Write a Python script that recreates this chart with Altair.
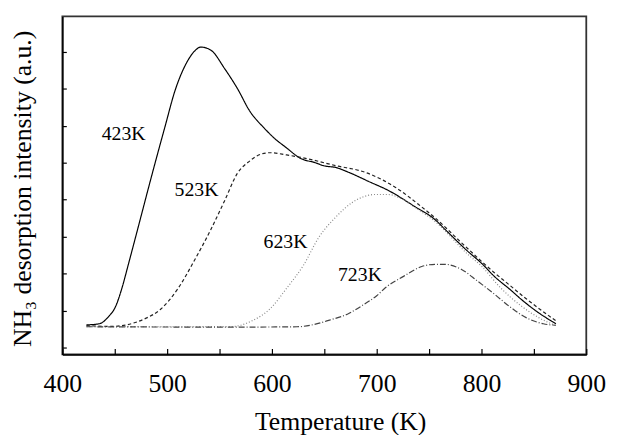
import altair as alt
import pandas as pd

series = ["423K", "523K", "623K", "723K"]

T_423 = [423, 435, 444, 451, 457, 463, 470, 476, 482, 490, 498, 507.5, 517, 526.5, 532,
         541.5, 555, 567, 579, 592.5, 602, 614, 626.5, 642.5, 649, 661, 674, 692.5, 711,
         737, 756, 765, 787, 800, 812, 828, 838, 850, 871]
V_423 = [0.61, 0.64, 0.83, 1.12, 1.62, 2.25, 3.00, 3.65, 4.30, 5.15, 5.98, 6.95, 7.62, 8.03, 8.13,
         8.05, 7.54, 7.01, 6.39, 5.94, 5.67, 5.40, 5.13, 4.99, 4.92, 4.87, 4.73, 4.49, 4.25,
         3.80, 3.45, 3.20, 2.60, 2.28, 1.93, 1.55, 1.30, 1.03, 0.64]

T_523 = [423, 447, 479, 494, 510, 526.5, 541.5, 555, 567, 579, 586, 598, 614, 630, 661, 690,
         718, 743, 756, 781, 812, 824.5, 843, 871]
V_523 = [0.59, 0.57, 0.78, 1.04, 1.58, 2.38, 3.18, 3.98, 4.71, 5.05, 5.19, 5.27, 5.21, 5.13,
         4.92, 4.73, 4.33, 3.80, 3.50, 2.83, 2.03, 1.74, 1.31, 0.72]

T_623 = [423, 560, 581, 598, 614, 630, 645, 661, 677, 699, 711, 721, 737, 756, 787, 800, 818,
         838, 855, 871]
V_623 = [0.56, 0.56, 0.72, 1.04, 1.60, 2.22, 2.99, 3.53, 3.93, 4.14, 4.14, 4.06, 3.78, 3.40,
         2.52, 2.20, 1.62, 1.12, 0.80, 0.59]

T_723 = [423, 560, 624, 640, 655, 672, 687, 700, 708.5, 726, 743, 756, 765, 781, 796, 812, 828,
         843, 859, 871]
V_723 = [0.56, 0.55, 0.56, 0.62, 0.74, 0.90, 1.15, 1.40, 1.62, 1.93, 2.19, 2.25, 2.25, 2.11,
         1.80, 1.45, 1.08, 0.80, 0.64, 0.60]

label_text = ["423K", "523K", "623K", "723K"]
label_T = [458.5, 528, 613, 684]
label_v = [5.78, 4.25, 2.86, 1.95]

x_major = [400, 500, 600, 700, 800, 900]
x_ticks = [400, 450, 500, 550, 600, 650, 700, 750, 800, 850, 900]
y_ticks = [0, 1, 2, 3, 4, 5, 6, 7, 8]

FONT = "Liberation Serif"

rows = []
for name, ts, vs in [("423K", T_423, V_423), ("523K", T_523, V_523),
                     ("623K", T_623, V_623), ("723K", T_723, V_723)]:
    for i, (t, v) in enumerate(zip(ts, vs)):
        rows.append({"series": name, "T": t, "v": v, "order": i})
df = pd.DataFrame(rows)
labels = pd.DataFrame({"text": label_text, "T": label_T, "v": label_v})

xscale = alt.Scale(domain=[400, 900], nice=False, zero=False)
yscale = alt.Scale(domain=[-0.19, 8.96], nice=False, zero=False)

lines = alt.Chart(df).mark_line(interpolate="monotone", strokeWidth=1.2).encode(
    x=alt.X("T:Q", scale=xscale, axis=alt.Axis(
        orient="bottom", values=x_major, ticks=False, tickSize=0, labelPadding=37,
        labelBaseline="alphabetic", labelFontSize=26, labelColor="black", labelFlush=False,
        labelFont=FONT,
        title="Temperature (K)", titleFontSize=26, titleFontWeight="normal", titleColor="black",
        titleFont=FONT,
        titleX=281, titleY=76, titleBaseline="alphabetic",
        domain=True, domainColor="black", domainWidth=1.5, grid=False)),
    y=alt.Y("v:Q", scale=yscale, axis=alt.Axis(
        orient="left", labels=False, ticks=False, tickSize=0,
        domain=True, domainColor="black", domainWidth=1.5, grid=False,
        title="NH₃ desorption intensity (a.u.)", titleFontSize=26, titleFontWeight="normal",
        titleColor="black", titleFont=FONT,
        titleX=-32, titleY=174, titleBaseline="alphabetic")),
    color=alt.Color("series:N", scale=alt.Scale(domain=series,
                    range=["#000000", "#222222", "#888888", "#444444"]), legend=None),
    strokeDash=alt.StrokeDash("series:N", scale=alt.Scale(domain=series,
                    range=[[1, 0], [3.5, 2.5], [1, 2], [6, 2, 1, 2]]), legend=None),
    order="order:Q",
)

text = alt.Chart(labels).mark_text(font=FONT, fontSize=20, align="center",
                                   baseline="middle", color="black").encode(
    x=alt.X("T:Q", scale=xscale, title=None, axis=alt.Axis(
        orient="top", offset=-342, values=x_ticks, labels=False, domain=False, ticks=True,
        tickSize=6, tickColor="black", tickWidth=1.2, grid=False)),
    y=alt.Y("v:Q", scale=yscale, title=None, axis=alt.Axis(
        orient="right", offset=-530, values=y_ticks, labels=False, domain=False, ticks=True,
        tickSize=4, tickColor="black", tickWidth=1.2, grid=False)),
    text="text:N",
)

chart = alt.layer(lines, text).resolve_axis(x="independent", y="independent").properties(
    width=530, height=342,
    autosize=alt.AutoSizeParams(type="none"),
    padding={"left": 55, "top": 6, "right": 24, "bottom": 79},
).configure(font=FONT).configure_view(stroke="#333333", strokeWidth=1.8)

chart.save("out.html", embed_options={"renderer": "svg", "actions": False})
